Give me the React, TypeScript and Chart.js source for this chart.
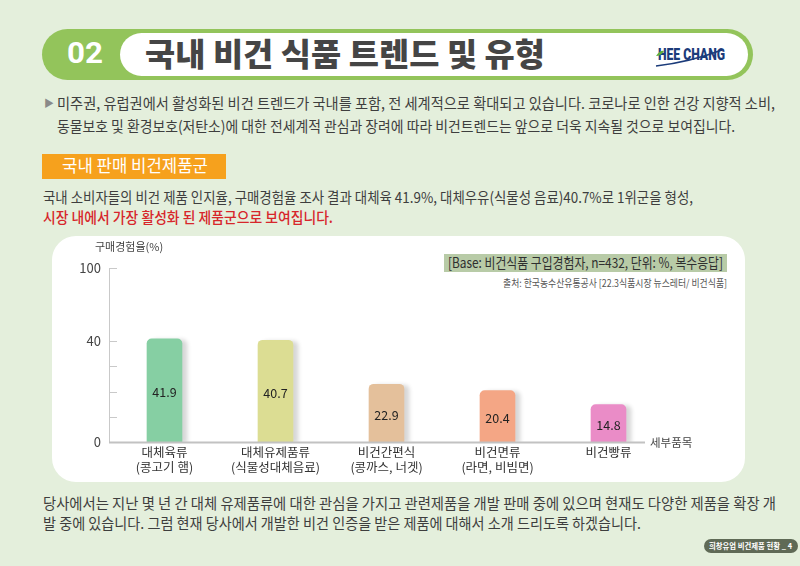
import React, { useEffect, useLayoutEffect, useRef } from 'react';
import { Chart, registerables, LinearScale } from 'chart.js';

// ---------- chart data ----------
const CATEGORIES: string[][] = [
  ['대체육류', '(콩고기 햄)'],
  ['대체유제품류', '(식물성대체음료)'],
  ['비건간편식', '(콩까스, 너겟)'],
  ['비건면류', '(라면, 비빔면)'],
  ['비건빵류'],
];
const PURCHASE_RATE = [41.9, 40.7, 22.9, 20.4, 14.8];
const Y_TICKS = [0, 10, 20, 30, 40, 100];
const Y_LABELED_TICKS = [0, 40, 100];
const BAR_COLORS = ['#86cfa3', '#dcdd93', '#e4c09b', '#f4a685', '#ea8cc7'];
const Y_AXIS_TITLE = '구매경험율(%)';
const X_AXIS_TITLE = '세부품목';

// broken (compressed above 40) value axis
const Y_MAX = 100;
const BREAK_VALUE = 40;
const BREAK_SHARE = 0.58;

function fwd(v: number): number {
  if (v <= BREAK_VALUE) return v * ((BREAK_SHARE * Y_MAX) / BREAK_VALUE);
  return BREAK_SHARE * Y_MAX + (v - BREAK_VALUE) * (((1 - BREAK_SHARE) * Y_MAX) / (Y_MAX - BREAK_VALUE));
}
function inv(u: number): number {
  const b = BREAK_SHARE * Y_MAX;
  if (u <= b) return u / ((BREAK_SHARE * Y_MAX) / BREAK_VALUE);
  return BREAK_VALUE + (u - b) / (((1 - BREAK_SHARE) * Y_MAX) / (Y_MAX - BREAK_VALUE));
}

class BrokenLinearScale extends LinearScale {
  static id = 'brokenLinear';
  static defaults = LinearScale.defaults;
  getPixelForValue(value: any): number {
    if (value === null || value === undefined) return NaN;
    return super.getPixelForValue(fwd(value));
  }
  getValueForPixel(pixel: number): number {
    return inv(super.getValueForPixel(pixel) as number);
  }
}

Chart.register(...registerables, BrokenLinearScale as any);

const KR = "'Noto Sans CJK KR', 'Noto Sans', sans-serif";

// ---------- text helper: fit to a given width ----------
function T(props: {
  x: number; cy: number; w?: number; size: number; color?: string; weight?: number;
  family?: string; children: React.ReactNode;
}) {
  const { x, cy, w, size, color = '#3e3e3e', weight = 400, family = KR, children } = props;
  const ref = useRef<HTMLSpanElement>(null);
  useLayoutEffect(() => {
    const el = ref.current;
    if (!el || !w) return;
    const nat = el.getBoundingClientRect().width;
    if (nat > 0) el.style.transform = `scaleX(${w / nat})`;
  }, [w]);
  return (
    <span
      ref={ref}
      style={{
        position: 'absolute', left: x, top: cy - size * 0.62, fontSize: size,
        lineHeight: `${size * 1.2}px`, whiteSpace: 'nowrap', color, fontWeight: weight,
        fontFamily: family, transformOrigin: 'left center', display: 'inline-block',
      }}
    >
      {children}
    </span>
  );
}

function ChartPanel() {
  const ref = useRef<HTMLCanvasElement>(null);
  useEffect(() => {
    if (!ref.current) return;
    Chart.defaults.font.family = KR;
    const decor = {
      id: 'decor',
      beforeDatasetsDraw(chart: any) {
        const ctx = chart.ctx;
        ctx.save();
        ctx.shadowColor = 'rgba(0,0,0,0.16)';
        ctx.shadowOffsetX = 5;
        ctx.shadowOffsetY = 1;
        ctx.shadowBlur = 4;
      },
      afterDatasetsDraw(chart: any) {
        const ctx = chart.ctx;
        ctx.restore();
        const meta = chart.getDatasetMeta(0);
        ctx.save();
        ctx.fillStyle = '#232323';
        ctx.font = `12.5px ${KR}`;
        ctx.textAlign = 'center';
        ctx.textBaseline = 'middle';
        meta.data.forEach((el: any, i: number) => {
          const p = el.getProps(['x', 'y', 'base'], true);
          ctx.fillText(PURCHASE_RATE[i].toFixed(1), p.x, (p.y + p.base) / 2 + 2);
        });
        ctx.restore();
      },
      afterDraw(chart: any) {
        const { ctx, chartArea } = chart;
        const y = chart.scales.y;
        ctx.save();
        ctx.strokeStyle = '#c9c9c9';
        ctx.lineWidth = 1;
        y.ticks.forEach((t: any) => {
          const py = Math.round(y.getPixelForValue(t.value)) + 0.5;
          ctx.beginPath();
          ctx.moveTo(chartArea.left, py);
          ctx.lineTo(chartArea.left + 8, py);
          ctx.stroke();
        });
        const by = Math.round(y.getPixelForValue(0)) + 0.5;
        ctx.strokeStyle = '#c2c2c2';
        ctx.lineWidth = 2;
        ctx.beginPath();
        ctx.moveTo(chartArea.left, by);
        ctx.lineTo(chartArea.right - 19, by);
        ctx.stroke();
        ctx.fillStyle = '#444';
        ctx.font = `11.5px ${KR}`;
        ctx.textBaseline = 'middle';
        ctx.textAlign = 'left';
        ctx.fillText(X_AXIS_TITLE, chartArea.right - 14, by);
        ctx.font = `11px ${KR}`;
        ctx.fillText(Y_AXIS_TITLE, 43, 11);
        ctx.restore();
      },
    };
    const chart = new Chart(ref.current, {
      type: 'bar',
      data: {
        labels: CATEGORIES as any,
        datasets: [
          {
            data: PURCHASE_RATE,
            backgroundColor: BAR_COLORS,
            barThickness: 35,
            borderRadius: { topLeft: 5, topRight: 5, bottomLeft: 0, bottomRight: 0 },
            borderSkipped: false,
          } as any,
        ],
      },
      options: {
        animation: false,
        responsive: false,
        maintainAspectRatio: false,
        layout: { padding: { top: 32, right: 81, bottom: 0, left: 0 } },
        plugins: { legend: { display: false }, tooltip: { enabled: false } },
        scales: {
          x: {
            grid: { display: false, drawTicks: false },
            border: { display: false },
            ticks: { color: '#333', font: { size: 12.5 }, padding: 3, maxRotation: 0, autoSkip: false },
            afterFit: (s: any) => { s.height = 40; },
          },
          y: {
            type: 'brokenLinear' as any,
            min: 0,
            max: Y_MAX,
            grid: { display: false, drawTicks: false },
            border: { display: true, color: '#c9c9c9', width: 1 },
            ticks: {
              color: '#444',
              font: { size: 13 },
              padding: 8,
              callback: (v: any) => (Y_LABELED_TICKS.includes(Number(v)) ? String(v) : ''),
            },
            afterBuildTicks: (s: any) => { s.ticks = Y_TICKS.map((v) => ({ value: v })); },
            afterFit: (s: any) => { s.width = 57; },
          } as any,
        },
      },
      plugins: [decor],
    });
    return () => chart.destroy();
  }, []);
  return <canvas ref={ref} width={693} height={246} style={{ position: 'absolute', left: 52, top: 236, width: 693, height: 246 }} />;
}

export default function App() {
  return (
    <div style={{ position: 'fixed', left: 0, top: 0, width: 800, height: 566, background: '#e4efdc', overflow: 'hidden', fontFamily: KR }}>
      {/* header */}
      <div style={{ position: 'absolute', left: 42, top: 29, width: 711, height: 51, borderRadius: 26, background: '#93c45b' }} />
      <div style={{ position: 'absolute', left: 120, top: 33, width: 628, height: 43, borderRadius: 22, background: '#ffffff' }} />
      <T x={67} cy={54} w={36} size={30} color="#ffffff" weight={700} family="Roboto, 'Noto Sans', sans-serif">02</T>
      <T x={145} cy={53} w={400} size={32} color="#454545" weight={900}>국내 비건 식품 트렌드 및 유형</T>
      <T x={658} cy={55} w={67} size={17} color="#1b3b7a" weight={900} family="Roboto, 'Liberation Sans Narrow', sans-serif">HEE CHANG</T>
      <svg style={{ position: 'absolute', left: 650, top: 44, width: 80, height: 26 }} width={80} height={26}>
        <path d="M6 22 Q40 18 72 6" stroke="#1b3b7a" strokeWidth={1.6} fill="none" />
        <path d="M6 12 Q10 6 14 7 Q11 12 6 12 Z" fill="#5fae3b" />
      </svg>

      {/* intro */}
      <T x={44} cy={103} size={10} color="#8a8a8a">▶</T>
      <T x={57} cy={103} w={718} size={15}>미주권, 유럽권에서 활성화된 비건 트렌드가 국내를 포함, 전 세계적으로 확대되고 있습니다. 코로나로 인한 건강 지향적 소비,</T>
      <T x={57} cy={126} w={678} size={15}>동물보호 및 환경보호(저탄소)에 대한 전세계적 관심과 장려에 따라 비건트렌드는 앞으로 더욱 지속될 것으로 보여집니다.</T>

      {/* section label */}
      <div style={{ position: 'absolute', left: 42, top: 154, width: 184, height: 25, background: '#f6a11d' }} />
      <T x={62} cy={166} w={146} size={17} color="#ffffff">국내 판매 비건제품군</T>
      <T x={43} cy={197} w={650} size={15}>국내 소비자들의 비건 제품 인지율, 구매경험율 조사 결과 대체육 41.9%, 대체우유(식물성 음료)40.7%로 1위군을 형성,</T>
      <T x={43} cy={217} w={290} size={15} color="#d7262b" weight={500}>시장 내에서 가장 활성화 된 제품군으로 보여집니다.</T>

      {/* chart panel */}
      <div style={{ position: 'absolute', left: 52, top: 236, width: 693, height: 246, borderRadius: 24, background: '#ffffff' }} />
      <div style={{ position: 'absolute', left: 444, top: 254, width: 283, height: 18, background: '#b8cba7' }} />
      <T x={448} cy={263} w={275} size={14} color="#2f2f2f">[Base: 비건식품 구입경험자, n=432, 단위: %, 복수응답]</T>
      <T x={503} cy={283} w={224} size={10} color="#555555">출처: 한국농수산유통공사 [22.3식품시장 뉴스레터/ 비건식품]</T>
      <ChartPanel />

      {/* closing text */}
      <T x={43} cy={503} w={733} size={15}>당사에서는 지난 몇 년 간 대체 유제품류에 대한 관심을 가지고 관련제품을 개발 판매 중에 있으며 현재도 다양한 제품을 확장 개</T>
      <T x={43} cy={523} w={598} size={15}>발 중에 있습니다. 그럼 현재 당사에서 개발한 비건 인증을 받은 제품에 대해서 소개 드리도록 하겠습니다.</T>

      {/* footer badge */}
      <div style={{ position: 'absolute', left: 704, top: 539, width: 94, height: 14, borderRadius: 7, background: '#5f6a56' }} />
      <T x={709} cy={546} w={83} size={8} color="#ffffff" weight={700}>희창유업 비건제품 현황 _ 4</T>
    </div>
  );
}
